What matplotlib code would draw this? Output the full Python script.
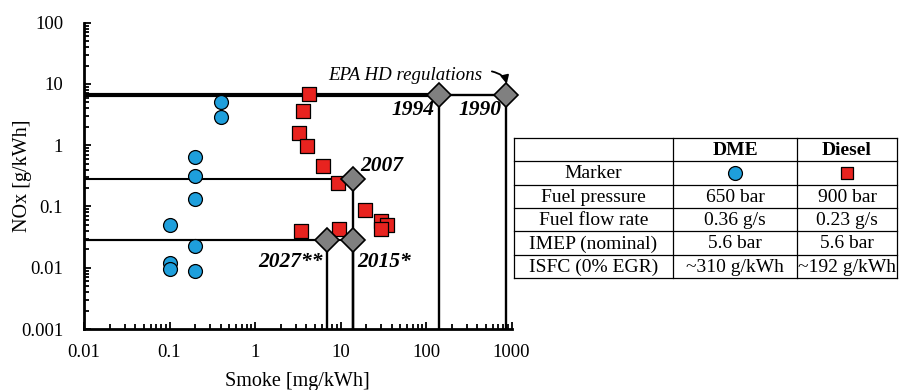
import numpy as np
import matplotlib
matplotlib.use("Agg")
import matplotlib.pyplot as plt
from matplotlib.ticker import FixedLocator, FixedFormatter, LogLocator, NullFormatter

plt.rcParams['font.family'] = ['Liberation Serif', 'DejaVu Serif']

# ---------------- data ----------------
dme_smoke = [0.4, 0.4, 0.2, 0.2, 0.2, 0.1, 0.2, 0.1, 0.1, 0.2]
dme_nox = [5.1, 2.9, 0.64, 0.31, 0.13, 0.049, 0.023, 0.012, 0.0096, 0.0088]

diesel_smoke = [4.3, 3.6, 3.3, 4.1, 6.2, 9.4, 19.4, 29.5, 35.0, 30.0, 3.45, 9.7]
diesel_nox = [6.8, 3.6, 1.6, 0.98, 0.46, 0.245, 0.088, 0.058, 0.050, 0.043, 0.040, 0.043]

reg_years = ['1990', '1994', '2007', '2015*', '2027**']
reg_smoke = [870, 143, 14.0, 14.0, 7.0]
reg_nox = [6.6, 6.6, 0.28, 0.028, 0.028]

x_ticks = [0.01, 0.1, 1, 10, 100, 1000]
x_ticklabels = ['0.01', '0.1', '1', '10', '100', '1000']
y_ticks = [0.001, 0.01, 0.1, 1, 10, 100]
y_ticklabels = ['0.001', '0.01', '0.1', '1', '10', '100']

table_header = ['', 'DME', 'Diesel']
table_rows = ['Marker', 'Fuel pressure', 'Fuel flow rate', 'IMEP (nominal)', 'ISFC (0% EGR)']
table_dme = ['', '650 bar', '0.36 g/s', '5.6 bar', '~310 g/kWh']
table_diesel = ['', '900 bar', '0.23 g/s', '5.6 bar', '~192 g/kWh']

BLUE = '#1E9FDC'
RED = '#E8231F'
GRAY = '#808080'

# ---------------- figure ----------------
W, H = 900, 390
fig = plt.figure(figsize=(9, 3.9), dpi=100)
ax = fig.add_axes([84 / W, 1 - 329 / H, (511.5 - 84) / W, (329 - 22.7) / H])
ax.set_xscale('log')
ax.set_yscale('log')
ax.set_xlim(x_ticks[0], x_ticks[-1])
ax.set_ylim(y_ticks[0], y_ticks[-1])
for s in ['top', 'right']:
    ax.spines[s].set_visible(False)
for s in ['left', 'bottom']:
    ax.spines[s].set_linewidth(2.0)

ax.xaxis.set_major_locator(FixedLocator(x_ticks))
ax.xaxis.set_major_formatter(FixedFormatter(x_ticklabels))
ax.yaxis.set_major_locator(FixedLocator(y_ticks))
ax.yaxis.set_major_formatter(FixedFormatter(y_ticklabels))
ax.xaxis.set_minor_locator(LogLocator(base=10, subs=np.arange(2, 10)))
ax.yaxis.set_minor_locator(LogLocator(base=10, subs=np.arange(2, 10)))
ax.xaxis.set_minor_formatter(NullFormatter())
ax.yaxis.set_minor_formatter(NullFormatter())
ax.tick_params(which='both', direction='in', top=False, right=False, width=1.3)
ax.tick_params(which='major', length=5, labelsize=13.5)
ax.tick_params(which='minor', length=3.5)
ax.tick_params(axis='x', which='major', pad=10.5)
ax.tick_params(axis='y', which='major', pad=15)

xmin = ax.get_xlim()[0]
ymin = ax.get_ylim()[0]

# regulation lines
for i, (yr, sm, nx) in enumerate(zip(reg_years, reg_smoke, reg_nox)):
    lw_h = 3.0 if yr == '1994' else (1.7 if yr == '1990' else 1.5)
    ax.plot([xmin, sm], [nx, nx], color='black', lw=lw_h, zorder=2, solid_capstyle='butt')
    ax.plot([sm, sm], [ymin, nx], color='black', lw=1.7, zorder=2, solid_capstyle='butt')

# data
ax.scatter(dme_smoke, dme_nox, s=100, marker='o', facecolor=BLUE, edgecolor='black',
           linewidth=0.9, zorder=3, clip_on=False)
ax.scatter(diesel_smoke, diesel_nox, s=95, marker='s', facecolor=RED, edgecolor='black',
           linewidth=0.9, zorder=3, clip_on=False)
ax.plot(reg_smoke, reg_nox, linestyle='none', marker='D', markersize=12,
        markerfacecolor=GRAY, markeredgecolor='black', markeredgewidth=1.2, zorder=4,
        clip_on=False)

# year labels
label_offsets = {
    '1990': ((-3.2, -10.8), 'right'),
    '1994': ((-3.6, -10.8), 'right'),
    '2007': ((5.5, 9.4), 'left'),
    '2015*': ((3.4, -15.8), 'left'),
    '2027**': ((-3.4, -15.8), 'right'),
}
for yr, sm, nx in zip(reg_years, reg_smoke, reg_nox):
    off, ha = label_offsets[yr]
    ax.annotate(yr, xy=(sm, nx), xytext=off, textcoords='offset points',
                ha=ha, va='center', fontsize=15.5, fontweight='bold', fontstyle='italic',
                zorder=5)

ax.annotate('EPA HD regulations', xy=(reg_smoke[0], reg_nox[0]), xytext=(-17.6, 14.4),
            textcoords='offset points', ha='right', va='center', fontsize=13.6,
            fontstyle='italic')
ax.annotate('', xy=(reg_smoke[0], reg_nox[0]), xytext=(-10.4, 17.0),
            textcoords='offset points',
            arrowprops=dict(arrowstyle='-|>,head_length=0.6,head_width=0.3',
                            mutation_scale=8, color='black', lw=1.3,
                            connectionstyle='arc3,rad=-0.5',
                            shrinkA=0, shrinkB=8))

fig.text(297 / W, 1 - 386 / H, 'Smoke [mg/kWh]', ha='center', va='baseline', fontsize=14.5)
fig.text(22.5 / W, 1 - 176 / H, 'NOx [g/kWh]', ha='center', va='center', rotation=90,
         fontsize=14.5)

# ---------------- table ----------------
tl, tr, tt, tb = 514, 897, 138, 278
tax = fig.add_axes([tl / W, 1 - tb / H, (tr - tl) / W, (tb - tt) / H])
tax.set_xlim(0, tr - tl)
tax.set_ylim(tb - tt, 0)
tax.axis('off')
col_edges = [0, 159, 283, tr - tl]
nrows = 1 + len(table_rows)
rh = (tb - tt) / nrows
for r in range(nrows + 1):
    tax.plot([0, col_edges[-1]], [r * rh, r * rh], color='black', lw=0.9, clip_on=False)
for c in col_edges:
    tax.plot([c, c], [0, tb - tt], color='black', lw=0.9, clip_on=False)

col_centers = [(col_edges[i] + col_edges[i + 1]) / 2 for i in range(3)]
for j, h in enumerate(table_header):
    tax.text(col_centers[j], rh * 0.5 + 1, h, ha='center', va='center', fontsize=14,
             fontweight='bold')
for i, name in enumerate(table_rows):
    yc = rh * (i + 1.5) + 1
    tax.text(col_centers[0], yc, name, ha='center', va='center', fontsize=14)
    tax.text(col_centers[1], yc, table_dme[i], ha='center', va='center', fontsize=14)
    tax.text(col_centers[2], yc, table_diesel[i], ha='center', va='center', fontsize=14)
# marker row
tax.scatter([col_centers[1]], [rh * 1.5], s=100, marker='o', facecolor=BLUE,
            edgecolor='black', linewidth=0.9, clip_on=False)
tax.scatter([col_centers[2]], [rh * 1.5], s=75, marker='s', facecolor=RED,
            edgecolor='black', linewidth=0.9, clip_on=False)

fig.savefig('out.png', dpi=100)
